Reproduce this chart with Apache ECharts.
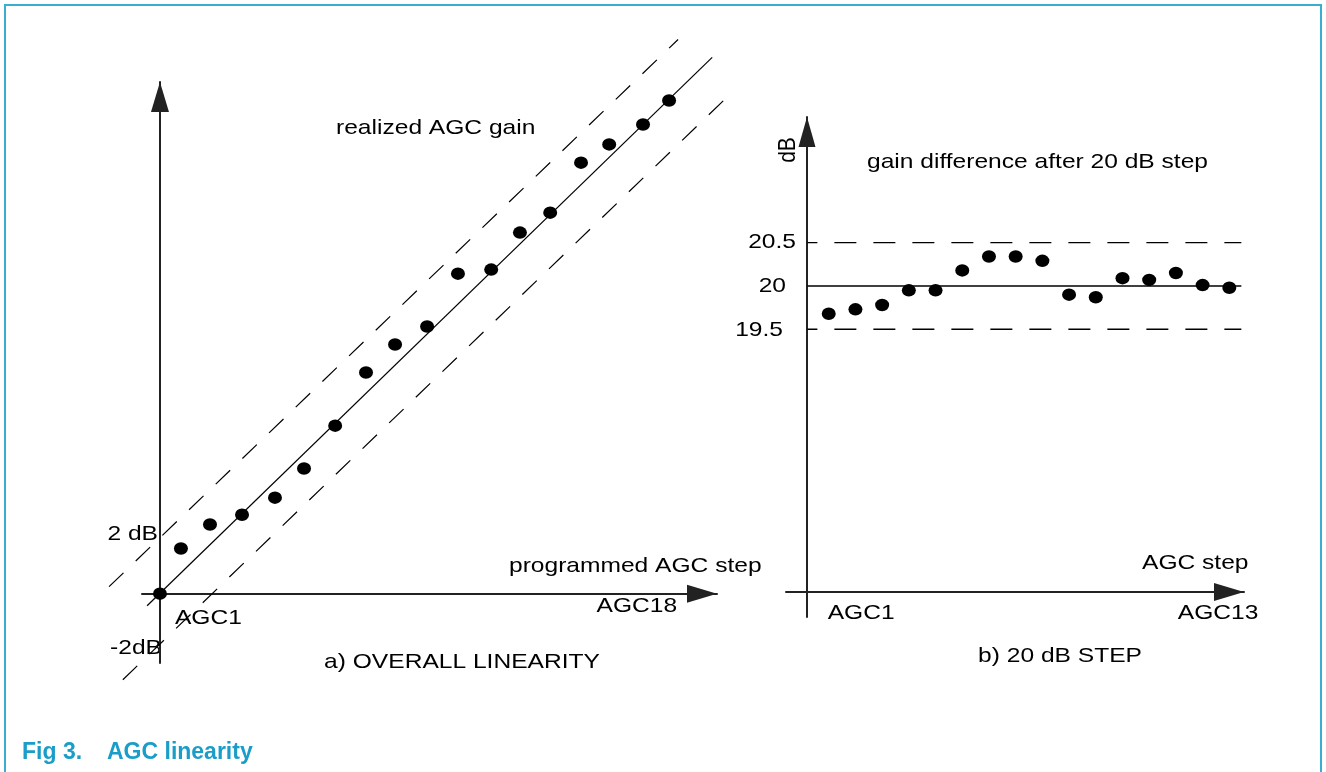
<!DOCTYPE html>
<html>
<head>
<meta charset="utf-8">
<title>AGC linearity</title>
<script src="https://cdn.jsdelivr.net/npm/echarts@6/dist/echarts.min.js"></script>
<style>
  html, body { margin: 0; padding: 0; background: #fff; }
  #chart { width: 1326px; height: 772px; }
</style>
</head>
<body>
<div id="chart"></div>
<script>
// a) overall linearity: programmed step (AGC1 = 0) against realized gain in dB
const stepA = [0, 0.70, 1.67, 2.74, 3.84, 4.81, 5.85, 6.88, 7.85, 8.92, 9.95, 11.06, 12.02, 13.03, 14.06, 15.0, 16.13, 17.0]
const gainA = [0, 1.56, 2.39, 2.73, 3.32, 4.33, 5.81, 7.65, 8.62, 9.24, 11.07, 11.21, 12.49, 13.18, 14.91, 15.54, 16.23, 17.06]
const idealA = [[-0.43, -0.42], [18.44, 18.55]]
const upperA = [[-1.70, 0.24], [17.30, 19.17]]
const lowerA = [[-1.24, -2.98], [19.10, 17.34]]

// b) gain difference after a 20 dB step
const stepB = [1, 2, 3, 4, 5, 6, 7, 8, 9, 10, 11, 12, 13, 14, 15, 16]
const diffB = [19.68, 19.73, 19.78, 19.95, 19.95, 20.18, 20.34, 20.34, 20.29, 19.90, 19.87, 20.09, 20.07, 20.15, 20.01, 19.98]
const refB = [19.5, 20, 20.5]
const refSpanB = [0.2, 16.45]

const FONT = '21px "Liberation Sans", Arial, sans-serif'
const STRETCH = 1.17

// left panel scale
const gridA = { left: 142, top: 82, width: 575, height: 581 }
const xRangeA = [-0.6, 18.6]
const yRangeA = [-2.4, 17.7]
// wider, invisible frame with the same scale so the guide lines can run past the axes
const xWideA = [-1.8, 19.4]
const yWideA = [-3.2, 19.4]
const kx = gridA.width / (xRangeA[1] - xRangeA[0])
const ky = gridA.height / (yRangeA[1] - yRangeA[0])
const gridWideA = {
  left: gridA.left - (xRangeA[0] - xWideA[0]) * kx,
  top: gridA.top - (yWideA[1] - yRangeA[1]) * ky,
  width: (xWideA[1] - xWideA[0]) * kx,
  height: (yWideA[1] - yWideA[0]) * ky
}

const chart = echarts.init(document.getElementById('chart'))

function arrowLine() {
  return {
    show: true,
    lineStyle: { color: '#222', width: 2 },
    symbol: ['none', 'triangle'],
    symbolSize: [18, 30],
    symbolOffset: [0, -15]
  }
}

function bareAxis(extra) {
  return Object.assign({
    type: 'value',
    axisTick: { show: false },
    axisLabel: { show: false },
    splitLine: { show: false }
  }, extra)
}

function line(data, idx, style) {
  return {
    type: 'line',
    xAxisIndex: idx,
    yAxisIndex: idx,
    data: data,
    symbol: 'none',
    clip: false,
    silent: true,
    lineStyle: Object.assign({ color: '#000', width: 1.2 }, style),
    z: 2
  }
}

function dots(data, idx) {
  return {
    type: 'scatter',
    xAxisIndex: idx,
    yAxisIndex: idx,
    data: data,
    symbol: 'circle',
    symbolSize: [14, 12.5],
    itemStyle: { color: '#000', opacity: 1 },
    z: 5
  }
}

const series = [
  line(idealA, 2, { type: 'solid' }),
  line(upperA, 2, { type: [20, 17] }),
  line(lowerA, 2, { type: [20, 17] }),
  dots(stepA.map((s, i) => [s, gainA[i]]), 0)
]

refB.forEach(v => {
  const style = v === 20
    ? { type: 'solid', width: 1.4 }
    : { type: [22, 17], dashOffset: 12, width: 1.4 }
  series.push(line(refSpanB.map(x => [x, v]), 1, style))
})

series.push(dots(stepB.map((s, i) => [s, diffB[i]]), 1))

chart.setOption({
  animation: false,
  backgroundColor: '#fff',
  grid: [
    gridA,
    { left: 786, top: 117, width: 458, height: 500 },
    gridWideA
  ],
  xAxis: [
    bareAxis({ gridIndex: 0, min: xRangeA[0], max: xRangeA[1], axisLine: arrowLine() }),
    bareAxis({ gridIndex: 1, min: -0.6, max: 16.55, position: 'bottom', offset: -25,
      axisLine: Object.assign(arrowLine(), { onZero: false }) }),
    bareAxis({ gridIndex: 2, min: xWideA[0], max: xWideA[1], show: false })
  ],
  yAxis: [
    bareAxis({ gridIndex: 0, min: yRangeA[0], max: yRangeA[1], axisLine: arrowLine() }),
    bareAxis({ gridIndex: 1, min: 16.18, max: 21.95, position: 'left', offset: -21,
      axisLine: Object.assign(arrowLine(), { onZero: false, symbolSize: [17, 30] }) }),
    bareAxis({ gridIndex: 2, min: yWideA[0], max: yWideA[1], show: false })
  ],
  series: series
})

function txt(text, x, y, align, extra) {
  return Object.assign({
    type: 'text',
    x: x,
    y: y,
    scaleX: STRETCH,
    silent: true,
    style: { text: text, font: FONT, fill: '#000', textAlign: align, textVerticalAlign: 'middle' }
  }, extra)
}

// anchors taken from the axes
const oA = chart.convertToPixel({ gridIndex: 0 }, [0, 0])
const endA = chart.convertToPixel({ gridIndex: 0 }, [17, 0])
const firstB = chart.convertToPixel({ gridIndex: 1 }, [1, 20])
const lastB = chart.convertToPixel({ gridIndex: 1 }, [16, 20])
const yB = v => chart.convertToPixel({ gridIndex: 1 }, [1, v])[1]

const captionFont = 'bold 23px "Liberation Sans", Arial, sans-serif'

chart.setOption({
  graphic: [
    {
      type: 'rect',
      silent: true,
      shape: { x: 5, y: 5, width: 1316, height: 800 },
      style: { fill: 'none', stroke: '#3aaed0', lineWidth: 2 }
    },
    // left panel
    txt('realized AGC gain', 336, 128, 'left'),
    txt('programmed AGC step', 509, oA[1] - 27, 'left'),
    txt('AGC18', endA[0] + 8, oA[1] + 13, 'right'),
    txt('AGC1', oA[0] + 15, oA[1] + 25, 'left'),
    txt('2 dB', oA[0] - 2, 534, 'right'),
    txt('-2dB', oA[0] + 2, 648, 'right'),
    txt('a) OVERALL LINEARITY', 462, 662, 'center'),
    // right panel
    txt('dB', 788, 150, 'center', { scaleX: 1, scaleY: STRETCH, rotation: Math.PI / 2 }),
    txt('gain difference after 20 dB step', 867, 162, 'left'),
    txt('20.5', 796, yB(20.5), 'right'),
    txt('20', 786, yB(20), 'right'),
    txt('19.5', 783, yB(19.5) + 1, 'right'),
    txt('AGC step', 1142, 563, 'left'),
    txt('AGC1', firstB[0] - 1, 613, 'left'),
    txt('AGC13', lastB[0] + 29, 613, 'right'),
    txt('b) 20 dB STEP', 1060, 656, 'center'),
    // caption
    {
      type: 'text', x: 22, y: 753, silent: true,
      style: { text: 'Fig 3.', font: captionFont, fill: '#1a9dc8', textVerticalAlign: 'middle' }
    },
    {
      type: 'text', x: 107, y: 753, silent: true,
      style: { text: 'AGC linearity', font: captionFont, fill: '#1a9dc8', textVerticalAlign: 'middle' }
    }
  ]
})
</script>
</body>
</html>
